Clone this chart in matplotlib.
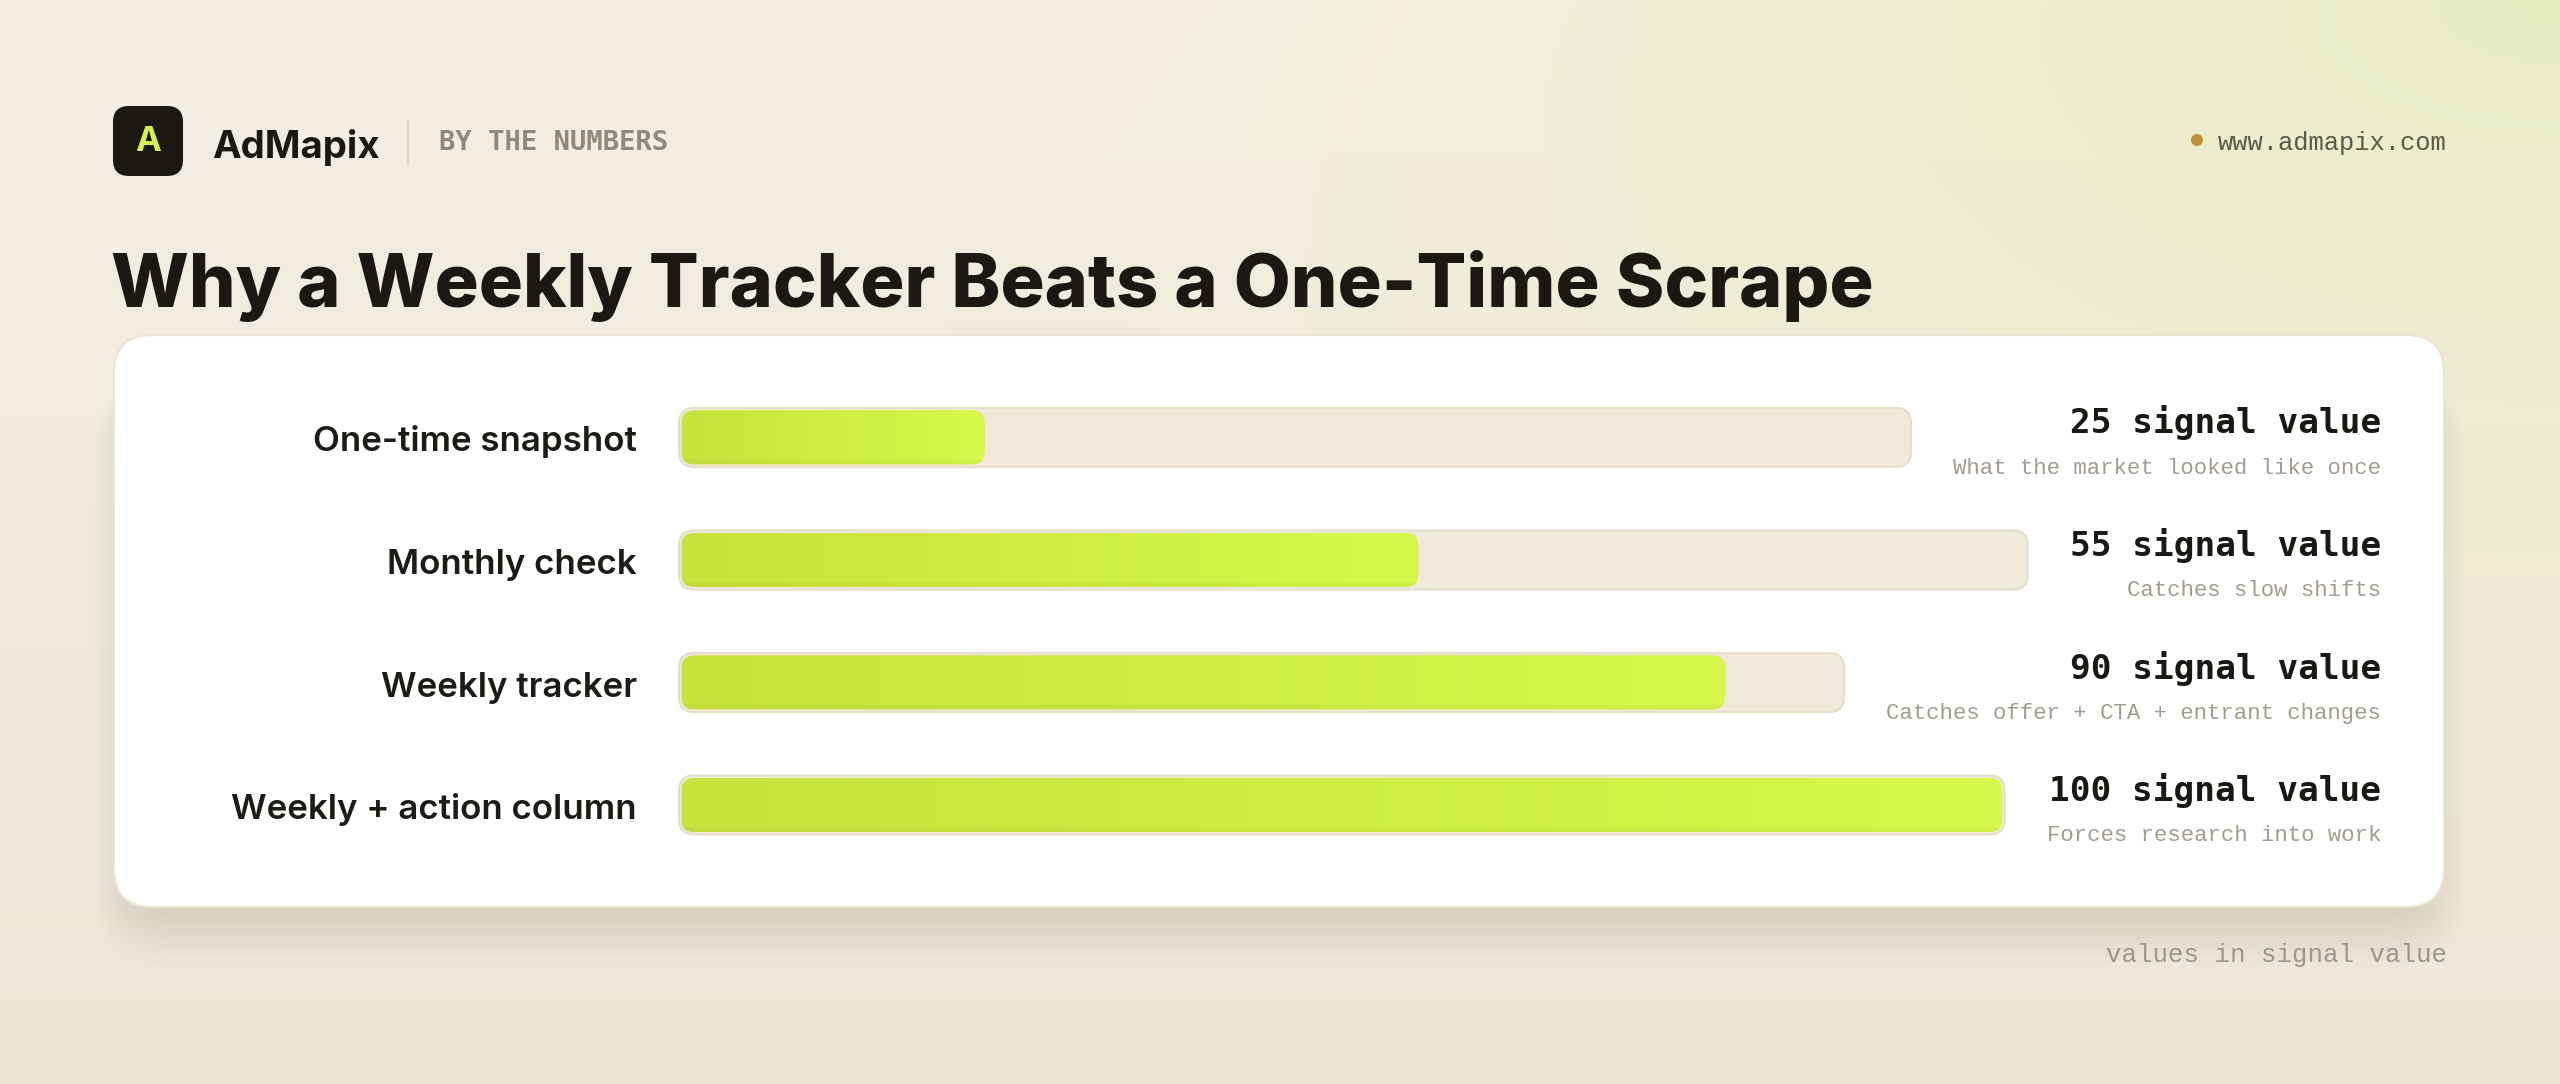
import numpy as np
import matplotlib
matplotlib.use("Agg")
import matplotlib.pyplot as plt
from matplotlib.patches import FancyBboxPatch, Circle
from matplotlib.colors import to_rgb

# ---- data ----
categories = ["One-time snapshot", "Monthly check", "Weekly tracker", "Weekly + action column"]
values = [25, 55, 90, 100]
unit = "signal value"
notes = ["What the market looked like once",
         "Catches slow shifts",
         "Catches offer + CTA + entrant changes",
         "Forces research into work"]

title = "Why a Weekly Tracker Beats a One-Time Scrape"
brand = "AdMapix"
kicker = "BY THE NUMBERS"
site = "www.admapix.com"
footnote = "values in signal value"

# ---- canvas ----
W, H = 2560, 1084
DPI = 200
SANS = ["Inter", "DejaVu Sans"]
MONO_B = ["DejaVu Sans Mono"]
MONO = ["Liberation Mono", "DejaVu Sans Mono"]

fig = plt.figure(figsize=(W / DPI, H / DPI), dpi=DPI)
bg = fig.add_axes([0, 0, 1, 1])
bg.set_xlim(0, W)
bg.set_ylim(H, 0)
bg.axis("off")

# background: warm cream with a yellow-green glow in the top right
ny, nx = 136, 320
yy, xx = np.mgrid[0:1:ny * 1j, 0:1:nx * 1j]
top = np.array(to_rgb("#f4eee3"))
bot = np.array(to_rgb("#efe7d6"))
img = top * (1 - yy[..., None]) + bot * yy[..., None]
glow = np.array(to_rgb("#e9edc4"))
d = np.sqrt(((1 - xx) * W / H * 0.55) ** 2 + (yy * 1.1) ** 2)
wgt = np.clip(1 - d / 1.0, 0, 1) ** 1.5
img = img * (1 - wgt[..., None]) + glow * wgt[..., None]
bg.imshow(img, extent=(0, W, H, 0), aspect="auto", interpolation="bicubic", zorder=0)

# card + soft shadow (mostly below the card, fading at the sides)
cx0, cy0, cx1, cy1 = 114, 335, 2444, 907
for k in range(1, 26):
    s = k * 3
    bg.add_patch(FancyBboxPatch((cx0 + 20 - s * 0.55, cy0 + 60 - s * 0.2),
                                (cx1 - cx0) - 40 + s * 1.1, (cy1 - cy0) - 60 + s * 1.0,
                                boxstyle=f"round,pad=0,rounding_size={38 + s * 0.5}",
                                fc="#7a6a40", ec="none", alpha=0.0042, zorder=1))
bg.add_patch(FancyBboxPatch((cx0, cy0), cx1 - cx0, cy1 - cy0, boxstyle="round,pad=0,rounding_size=38",
                            fc="white", ec="#ebe5d6", lw=0.8, zorder=2))

# ---- header ----
bg.add_patch(FancyBboxPatch((113, 106), 70, 70, boxstyle="round,pad=0,rounding_size=16",
                            fc="#1b1812", ec="none", zorder=3))
bg.text(148, 142, "A", family=SANS, weight="bold", fontsize=12.5, color="#d6f24a",
        ha="center", va="center", zorder=4)
t_brand = bg.text(212, 158, brand, family=SANS, weight="bold", fontsize=15, color="#1b1812",
                  ha="left", va="baseline", zorder=4)
bg.plot([408, 408], [120, 164], color="#ddd6c6", lw=0.8, zorder=3)
t_kick = bg.text(439, 150, kicker, family=MONO_B, weight="bold", fontsize=8, color="#8f897c",
                 ha="left", va="baseline", zorder=4)
bg.add_patch(Circle((2197, 140), 6, fc="#c0913e", ec="none", zorder=4))
t_site = bg.text(2447, 150, site, family=MONO, fontsize=9, color="#5b574b",
                 ha="right", va="baseline", zorder=4)

t_title = bg.text(111, 307, title, family=SANS, weight="heavy", fontsize=32, color="#1b1812",
                  ha="left", va="baseline", zorder=4)

t_foot = bg.text(2447, 962, footnote, family=MONO, fontsize=9, color="#9d978b",
                 ha="right", va="baseline", zorder=4)

# ---- rows ----
row_y = [437.5, 560, 682.5, 805]
label_right = 637
text_right = 2381
bar_x0 = 679
bar_h = 59

t_labels, t_vals, t_notes = [], [], []
for cat, v, note, yc in zip(categories, values, notes, row_y):
    t_labels.append(bg.text(label_right, yc + 14, cat, family=SANS, weight="semibold", fontsize=12.5,
                            color="#1d1b16", ha="right", va="baseline", zorder=4))
    t_vals.append(bg.text(text_right, yc - 4, f"{v} {unit}", family=MONO_B, weight="bold", fontsize=12.4,
                          color="#1a1813", ha="right", va="baseline", zorder=4))
    t_notes.append(bg.text(text_right, yc + 36, note, family=MONO, fontsize=8, color="#a39d91",
                           ha="right", va="baseline", zorder=4))

# fit text sizes to the widths measured on the reference
fig.canvas.draw()
rend = fig.canvas.get_renderer()


def fit(t, target):
    w = t.get_window_extent(rend).width
    t.set_fontsize(t.get_fontsize() * target / w)


fit(t_title, 1763)
fit(t_brand, 168)
fit(t_kick, 229)
fit(t_site, 230)
fit(t_foot, 340)
fit(t_labels[0], 324)
fit(t_vals[3], 331)
fit(t_notes[2], 498)
for t in t_labels[1:]:
    t.set_fontsize(t_labels[0].get_fontsize())
for t in t_vals:
    t.set_fontsize(t_vals[3].get_fontsize())
for t in t_notes:
    t.set_fontsize(t_notes[2].get_fontsize())
fig.canvas.draw()

gap = 42
radius = 15
c_left = np.array(to_rgb("#c7e33c"))
c_right = np.array(to_rgb("#d8f84b"))
for v, yc, tv, tn in zip(values, row_y, t_vals, t_notes):
    left = min(tv.get_window_extent(rend).x0, tn.get_window_extent(rend).x0)
    tw = left - gap - bar_x0
    ax = fig.add_axes([bar_x0 / W, 1 - (yc + bar_h / 2) / H, tw / W, bar_h / H])
    ax.axis("off")
    ux = tw / 100.0          # px per x unit
    asp = ux / bar_h         # mutation aspect so corners are circular in pixels
    r = radius / ux
    track = FancyBboxPatch((0, 0), 100, 1, boxstyle=f"round,pad=0,rounding_size={r}",
                           mutation_aspect=asp, fc="#f0eadb", ec="#e5dfcc", lw=0.8,
                           clip_on=False, zorder=1)
    ax.add_patch(track)
    ix, iy = 2.5 / ux, 2.5 / bar_h
    fill = FancyBboxPatch((ix, iy), v - 2 * ix, 1 - 2 * iy,
                          boxstyle=f"round,pad=0,rounding_size={(radius - 2) / ux}",
                          mutation_aspect=asp, fc="#cfea42", ec="none", clip_on=False, zorder=2)
    ax.add_patch(fill)
    # horizontal gradient with a slightly darker bottom lip
    gx = np.linspace(0, 1, 256)
    grad = c_left[None, None, :] * (1 - gx[None, :, None]) + c_right[None, None, :] * gx[None, :, None]
    grad = np.repeat(grad, bar_h, axis=0)
    grad[-5:] *= 0.965
    im = ax.imshow(grad, extent=(ix, v - ix, iy, 1 - iy), aspect="auto", interpolation="bilinear",
                   origin="upper", zorder=3)
    im.set_clip_path(fill)
    ax.set_xlim(0, 100)
    ax.set_ylim(0, 1)

fig.savefig("out.png", dpi=DPI)
